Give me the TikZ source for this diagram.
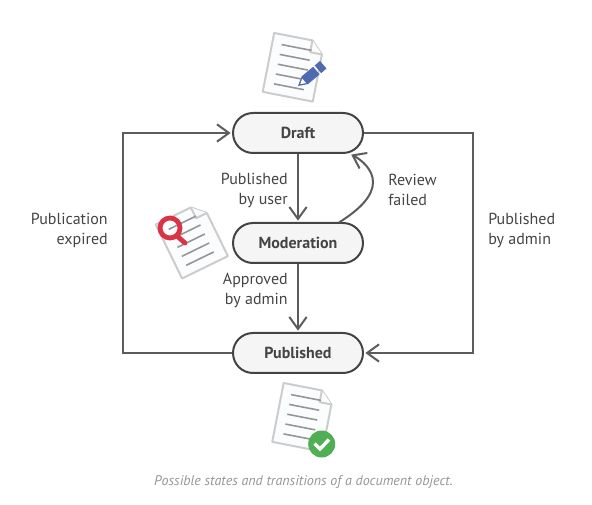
\documentclass[tikz,border=0pt]{standalone}
\usepackage{fontspec}
\setmainfont{PT Sans}
\usepackage{xcolor}
\usetikzlibrary{arrows.meta, positioning, calc}
\definecolor{stateLine}{RGB}{68,68,68}
\definecolor{stateFill}{RGB}{245,245,245}
\definecolor{flowLine}{RGB}{92,92,92}
\definecolor{labelText}{RGB}{68,68,68}
\definecolor{captionText}{RGB}{150,150,150}
\definecolor{paperLine}{RGB}{204,204,204}
\definecolor{paperFill}{RGB}{251,252,253}
\definecolor{paperText}{RGB}{150,150,150}
\definecolor{pencilBlue}{RGB}{78,107,178}
\definecolor{lensRed}{RGB}{220,50,70}
\definecolor{checkGreen}{RGB}{80,174,85}
\tikzset{
    statebox/.style={
        rectangle,
        draw=stateLine,
        line width=1.5pt,
        rounded corners=15pt,
        fill=stateFill,
        text=labelText,
        minimum width=97.5pt,
        minimum height=30pt,
        inner sep=0pt,
        font=\fontsize{12}{15}\selectfont\bfseries
    },
    flowarrow/.style={-{Straight Barb[length=9pt,width=13pt,line width=1.5pt]}, shorten >=1pt, line width=1.5pt, draw=flowLine},
    flowlabel/.style={text=labelText, inner sep=0pt, font=\fontsize{12}{15}\selectfont},
    paper/.style={draw=paperLine, fill=paperFill, line width=1.5pt, line join=round},
    paperrow/.style={draw=paperText, line width=1.2pt}
}
\newcommand{\docicon}[3]{
    \begin{scope}[shift={(#1,#2)},rotate=#3]
        \draw[paper] (-24,-30) -- (15,-30) -- (27,-18) -- (27,30) -- (-24,30) -- cycle;
        \draw[paper] (15,-30) -- (15,-18) -- (27,-18);
        \foreach \y in {-20,-10,0,10,20} {
            \draw[paperrow] (-14.5,\y) -- (16,\y);
        }
    \end{scope}
}
\begin{document}
\begin{tikzpicture}[x=0.75pt,y=-0.75pt]
        \useasboundingbox (0,0) rectangle (592,505);

        % icons
        \docicon{292}{67}{-11}
        \begin{scope}[shift={(298,86)},rotate=40]
            \fill[pencilBlue] (0,0) -- (9,-5) -- (24,-5) -- (24,5) -- (9,5) -- cycle;
            \fill[white] (3,0) -- (8,-3) -- (8,3) -- cycle;
            \fill[pencilBlue] (26,-5) -- (33,-5) -- (33,5) -- (26,5) -- cycle;
        \end{scope}
        \docicon{190.5}{241}{26}
        \draw[lensRed, line width=3.6pt] (170,228) circle (10);
        \draw[lensRed, line width=3.6pt, line cap=round] (177,236) -- (185,243);
        \docicon{301.5}{417}{-11}
        \fill[checkGreen] (321.7,444) circle (13.5);
        \draw[white, line width=2.6pt] (314.5,443.5) -- (320,449) -- (329,439.5);

        % states
        \node[statebox] (draft) at (298,133) {Draft};
        \node[statebox] (moderation) at (298,243) {Moderation};
        \node[statebox] (published) at (298,353) {Published};

        \coordinate (adminside) at (473,243);
        \coordinate (expiredside) at (123,243);
        \coordinate (reviewstart) at (339,222.5);
        \coordinate (reviewend) at (350,154);

        % transitions
        \draw[flowarrow] (draft) -- (moderation);
        \draw[flowarrow] (moderation) -- (published);
        \draw[flowarrow] (reviewstart) .. controls (362,208) and (373,195) .. (373,182) .. controls (373,170) and (362,160) .. (reviewend);
        \draw[flowarrow] (draft.east) -| (adminside) |- (published.east);
        \draw[flowarrow] (published.west) -| (expiredside) |- (draft.west);

        % labels
        \node[flowlabel, align=right, anchor=east] (byuser) at (288,190) {Published\\by user};
        \node[flowlabel, align=left, anchor=west] (failed) at (388,190) {Review\\failed};
        \node[flowlabel, align=right, anchor=east] (approved) at (288,290) {Approved\\by admin};
        \node[flowlabel, align=left, anchor=west] (byadmin) at (488,230) {Published\\by admin};
        \node[flowlabel, align=right, anchor=east] (expired) at (108,230) {Publication\\expired};
        \node[flowlabel, text=captionText, font=\fontsize{10.5}{12}\selectfont\itshape] (caption) at (303.5,482) {Possible states and transitions of a document object.};
    \end{tikzpicture}
\end{document}
